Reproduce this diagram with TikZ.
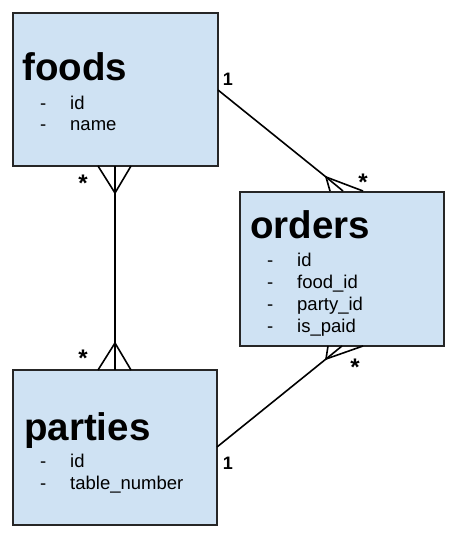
\documentclass[tikz,border=0pt]{standalone}
\usepackage{fontspec}
\setmainfont{Liberation Sans}
\definecolor{boxblue}{HTML}{CFE2F3}
\begin{document}
\begin{tikzpicture}[x=1pt,y=-1pt,
  entity/.style={draw=black!85, fill=boxblue, line width=1.6pt, anchor=north west, inner sep=0pt, outer sep=0pt},
  title/.style={anchor=base west, inner sep=0pt, font=\bfseries\fontsize{38.5}{40}\selectfont},
  item/.style={anchor=base west, inner sep=0pt, font=\fontsize{18.5}{20}\selectfont},
  card/.style={inner sep=0pt, font=\bfseries\fontsize{18}{18}\selectfont},
  starl/.style={inner sep=0pt, font=\bfseries\fontsize{24}{24}\selectfont},
  rel/.style={line width=1.6pt, black}]
\useasboundingbox (0,0) rectangle (465,537);
% entities
\node[entity, minimum width=205pt, minimum height=153pt] (foods) at (13,13) {};
\node[entity, minimum width=204pt, minimum height=154pt] (orders) at (240,192) {};
\node[entity, minimum width=204pt, minimum height=155pt] (parties) at (13,370) {};
% titles and items
\node[title] (tf) at (22,81) {foods};
\node[item] (fd1) at (40,110) {-};
\node[item] (fi1) at (70,110) {id};
\node[item] (fd2) at (40,131) {-};
\node[item] (fi2) at (70,131) {name};
\node[title] (to) at (250,238) {orders};
\node[item] (od1) at (267,266) {-};
\node[item] (oi1) at (297,266) {id};
\node[item] (od2) at (267,288) {-};
\node[item] (oi2) at (297,288) {food\_id};
\node[item] (od3) at (267,310) {-};
\node[item] (oi3) at (297,310) {party\_id};
\node[item] (od4) at (267,332) {-};
\node[item] (oi4) at (297,332) {is\_paid};
\node[title] (tp) at (24,440) {parties};
\node[item] (pd1) at (40,467) {-};
\node[item] (pi1) at (70,467) {id};
\node[item] (pd2) at (40,489) {-};
\node[item] (pi2) at (70,489) {table\_number};
% connector points
\coordinate (fo1) at (218,90);
\coordinate (fo2) at (326,177);
\coordinate (fo3) at (343,191);
\coordinate (fo4) at (330,191);
\coordinate (fo5) at (363,191);
\coordinate (po1) at (217,447);
\coordinate (po2) at (326,359);
\coordinate (po3) at (342,346);
\coordinate (po4) at (328,346);
\coordinate (po5) at (363,346);
\coordinate (fp1) at (115,166);
\coordinate (fp2) at (115,370);
\coordinate (fpa) at (115,193);
\coordinate (fpb) at (115,343);
\coordinate (fpl1) at (98,166);
\coordinate (fpr1) at (131,166);
\coordinate (fpl2) at (98,370);
\coordinate (fpr2) at (131,370);
% connectors
\draw[rel] (fo1) -- (fo2) -- (fo3);
\draw[rel] (fo4) -- (fo2) -- (fo5);
\draw[rel] (po1) -- (po2) -- (po3);
\draw[rel] (po4) -- (po2) -- (po5);
\draw[rel] (fp1) -- (fp2);
\draw[rel] (fpl1) -- (fpa) -- (fpr1);
\draw[rel] (fpl2) -- (fpb) -- (fpr2);
% cardinalities
\node[card] (c1) at (228,79.5) {1};
\node[card] (c2) at (228,463) {1};
\node[starl] (s1) at (363,182) {*};
\node[starl] (s2) at (355,367) {*};
\node[starl] (s3) at (83,183) {*};
\node[starl] (s4) at (83,358) {*};
\end{tikzpicture}
\end{document}
